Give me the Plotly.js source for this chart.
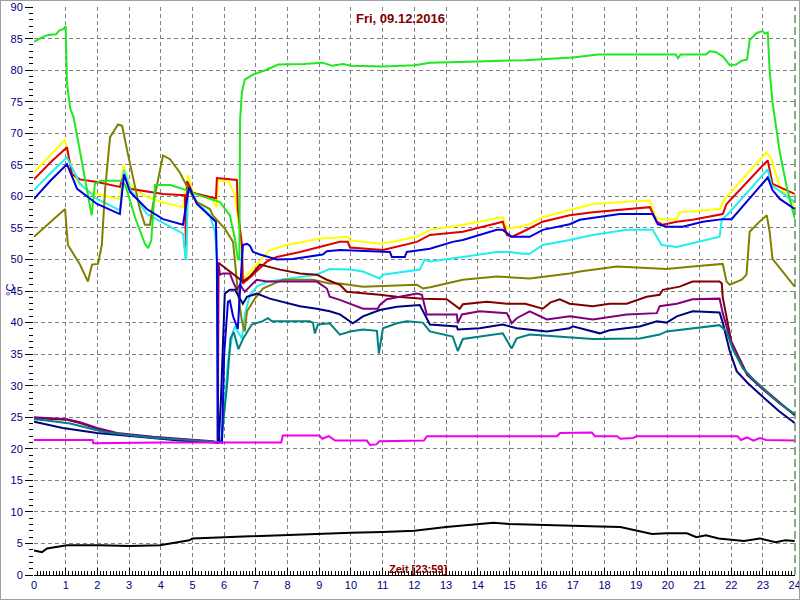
<!DOCTYPE html>
<html>
<head>
<meta charset="utf-8">
<script src="https://cdn.plot.ly/plotly-3.0.1.min.js"></script>
<style>
  html, body { margin: 0; padding: 0; background: #ffffff; }
  #wrap { position: relative; width: 800px; height: 600px; }
  #chart { width: 800px; height: 600px; }
  #frame { position: absolute; left: 0; top: 0; width: 800px; height: 600px; box-sizing: border-box; border: 1px solid #a0a0a0; pointer-events: none; }
</style>
</head>
<body>
<div id="wrap"><div id="chart"></div><div id="frame"></div></div>
<script>
// ---- data: [hour, °C] pairs ----
const chartTitle = "Fri, 09.12.2016";
const xTitle = "Zeit [23:59]";
const yTitle = "°C";

const green = [[0,84.5],[0.25,85.2],[0.45,85.6],[0.7,85.7],[0.8,86.3],[0.95,86.6],[1.0,87.0],[1.04,78.0],[1.14,74.0],[1.25,72.5],[1.4,68.5],[1.6,63.0],[1.82,57.0],[1.92,62.0],[2.1,62.5],[2.8,62.5],[2.9,61.5],[3.2,56.5],[3.5,52.5],[3.6,51.8],[3.7,53.0],[3.82,61.8],[4.3,61.8],[4.5,61.5],[4.8,61.0],[5.2,60.2],[5.6,59.5],[5.87,59.1],[6.18,57.0],[6.34,53.3],[6.43,50.1],[6.48,50.0],[6.5,72.0],[6.56,76.5],[6.65,78.5],[6.91,79.3],[7.3,80.0],[7.7,80.9],[8.5,81.0],[9.1,81.2],[9.4,80.7],[9.75,81.0],[10.0,80.7],[11.0,80.6],[12.0,80.8],[12.5,81.2],[14.0,81.4],[15.5,81.6],[17.0,82.0],[17.8,82.5],[20.25,82.5],[20.32,81.9],[20.4,82.5],[21.2,82.5],[21.32,83.0],[21.5,82.9],[21.73,82.2],[21.95,80.8],[22.15,80.9],[22.33,81.5],[22.5,81.7],[22.58,84.8],[22.8,85.9],[22.99,86.2],[23.05,85.8],[23.15,86.0],[23.21,80.0],[23.3,74.9],[23.53,67.0],[23.75,61.5],[24,56.5]];

const yellow = [[0,63.8],[0.5,66.5],[0.98,69.0],[1.07,66.5],[1.36,62.3],[1.77,60.7],[2.3,60.0],[2.71,59.6],[2.81,65.0],[3.03,61.8],[3.56,59.9],[4.1,59.0],[4.7,58.3],[4.86,63.4],[5.01,60.7],[5.64,59.4],[5.77,58.3],[5.8,62.6],[6.15,62.3],[6.34,60.2],[6.43,56.4],[6.56,51.7],[6.59,46.8],[7.03,49.2],[7.44,51.5],[7.98,52.3],[9.0,53.3],[9.9,53.6],[9.97,53.0],[11.0,52.5],[12.08,53.6],[12.49,54.7],[13.53,55.5],[14.79,56.7],[14.92,54.9],[15.3,55.2],[15.64,55.6],[16.05,56.7],[16.9,57.8],[17.63,58.8],[19.43,59.4],[19.58,57.0],[19.74,56.4],[20.28,56.4],[20.37,57.5],[21.63,58.0],[21.79,59.6],[23.12,67.0],[23.27,65.9],[23.53,61.5],[24,58.5]];

const red = [[0,62.7],[0.5,65.3],[1.04,67.8],[1.2,63.5],[1.45,62.7],[1.99,62.3],[2.71,61.5],[2.84,63.5],[3.03,61.2],[4.07,60.4],[4.76,60.2],[4.78,50.8],[4.8,50.8],[4.83,62.4],[5.0,60.6],[5.55,59.9],[5.74,59.7],[5.77,62.9],[6.4,62.6],[6.43,58.0],[6.56,52.3],[6.59,46.2],[6.91,47.6],[7.35,49.7],[7.66,50.4],[8.39,51.2],[9.65,52.8],[9.9,52.8],[9.97,51.9],[11.01,51.5],[12.08,52.8],[12.49,53.9],[13.53,54.4],[14.79,56.0],[14.92,53.9],[15.07,53.6],[15.42,54.4],[16.05,56.0],[16.9,57.0],[17.63,57.5],[19.43,58.3],[19.65,56.0],[19.84,55.5],[20.28,56.0],[20.78,56.3],[21.73,57.2],[21.85,58.8],[22.99,64.9],[23.15,65.7],[23.3,62.0],[24,60.4]];

const cyan = [[0,61.0],[0.5,63.6],[1.04,66.2],[1.23,64.2],[1.45,62.0],[1.99,59.6],[2.71,57.8],[2.84,64.2],[3.03,61.2],[3.56,57.2],[4.7,54.1],[4.78,50.1],[4.8,50.1],[4.86,61.5],[5.14,59.1],[5.55,57.0],[5.71,54.4],[5.77,50.0],[5.8,21.5],[5.93,21.2],[6.02,28.0],[6.12,33.9],[6.28,38.6],[6.34,39.4],[6.43,38.6],[6.56,37.5],[6.65,41.3],[6.81,44.4],[7.03,45.7],[7.35,46.5],[8.07,47.0],[8.9,47.6],[9.33,48.5],[9.97,48.4],[10.38,48.1],[10.91,47.0],[11.01,47.6],[12.17,48.4],[12.33,50.0],[12.49,49.7],[13.53,50.4],[14.6,51.2],[15.01,51.2],[15.42,50.9],[15.64,50.9],[16.05,52.3],[16.9,53.1],[17.63,53.9],[18.7,54.7],[19.52,54.7],[19.8,52.3],[20.28,52.0],[21.63,53.6],[21.7,56.3],[21.95,57.5],[23.15,64.3],[23.27,61.8],[24,59.1]];

const blue = [[0,59.6],[0.5,62.4],[1.04,65.1],[1.36,61.2],[1.99,58.8],[2.71,57.2],[2.84,63.5],[3.03,60.7],[3.56,58.0],[4.07,56.4],[4.7,55.5],[4.89,61.5],[5.14,58.8],[5.64,56.4],[5.74,56.0],[5.77,49.7],[5.8,21.3],[5.93,21.0],[6.0,35.0],[6.12,43.3],[6.18,43.5],[6.28,41.0],[6.43,39.0],[6.5,45.0],[6.59,52.3],[6.72,52.5],[6.81,52.2],[6.91,51.2],[7.13,50.8],[7.66,50.0],[8.17,50.1],[9.11,50.8],[9.24,51.3],[9.65,51.5],[11.23,51.2],[11.29,50.4],[11.7,50.4],[11.76,51.2],[12.49,51.7],[13.21,52.8],[13.53,53.1],[14.6,54.7],[14.79,54.7],[15.07,53.6],[15.64,53.6],[16.05,54.7],[16.9,55.6],[17.22,56.3],[18.48,57.2],[19.52,57.2],[19.68,55.6],[19.96,55.2],[20.47,55.2],[21.1,56.0],[21.73,56.4],[22.01,56.4],[23.15,63.0],[23.3,61.0],[23.53,59.6],[24,58.0]];

const olive = [[0,53.6],[0.5,55.8],[0.98,58.0],[1.07,52.3],[1.45,49.2],[1.7,46.5],[1.83,49.2],[2.02,49.3],[2.14,52.3],[2.24,61.0],[2.4,69.4],[2.65,71.4],[2.78,71.2],[2.93,67.5],[3.34,58.0],[3.5,55.5],[3.66,55.5],[3.75,58.6],[4.07,66.5],[4.29,65.9],[4.6,63.8],[4.92,60.7],[5.14,59.1],[5.55,58.0],[5.64,57.0],[6.02,54.9],[6.28,52.8],[6.34,49.7],[6.43,44.9],[6.56,40.2],[6.65,38.6],[6.72,41.8],[6.97,43.8],[7.22,45.4],[7.85,46.8],[8.8,46.8],[9.33,46.2],[9.65,46.2],[10.38,45.7],[12.08,46.0],[12.27,45.4],[12.5,45.6],[13.53,46.8],[14.6,47.3],[15.64,47.0],[16.9,47.8],[17.22,48.1],[18.39,48.9],[19.96,48.5],[20.78,48.9],[21.63,49.2],[21.73,49.3],[21.85,46.5],[21.95,46.0],[22.33,46.8],[22.48,47.6],[22.58,54.4],[22.89,56.0],[23.12,57.0],[23.21,54.4],[23.3,50.1],[24,45.7]];

const maroon = [[0,24.9],[1.04,24.6],[1.45,24.1],[1.99,23.2],[2.62,22.4],[3.75,21.8],[5.64,21.1],[5.8,21.0],[5.82,49.5],[6.59,46.5],[6.81,47.3],[7.13,49.2],[7.76,48.4],[8.39,47.8],[8.92,47.6],[9.24,46.8],[9.65,46.0],[9.87,44.9],[10.91,44.4],[11.45,44.1],[12.27,43.8],[13.02,43.7],[13.43,42.2],[13.53,42.9],[14.29,43.3],[14.92,43.0],[15.5,43.0],[16.05,42.2],[16.3,43.2],[16.59,43.7],[16.9,43.0],[17.63,42.6],[18.16,43.0],[18.7,43.0],[19.33,44.1],[19.74,44.4],[19.84,45.2],[20.37,45.7],[20.78,46.5],[21.63,46.5],[21.7,46.2],[21.73,44.0],[22.0,37.0],[22.5,31.8],[23.0,29.6],[23.5,27.4],[24,25.3]];

const purple = [[0,25.0],[1.04,24.7],[1.45,24.2],[1.99,23.3],[2.62,22.5],[3.75,21.9],[5.64,21.2],[5.8,21.0],[5.81,49.5],[5.87,47.6],[5.96,47.8],[6.18,47.8],[6.28,46.5],[6.4,45.2],[6.5,46.0],[6.65,44.9],[6.81,45.7],[7.03,46.8],[7.35,46.5],[8.92,46.5],[9.24,45.4],[9.33,44.1],[9.65,43.6],[9.97,43.0],[10.38,42.2],[10.85,42.2],[10.91,42.8],[11.13,43.7],[11.45,44.0],[12.08,44.6],[12.24,44.4],[12.39,41.3],[13.34,41.3],[13.37,39.9],[13.5,41.3],[14.06,41.8],[14.92,41.5],[15.07,39.9],[15.23,40.7],[15.64,41.8],[16.18,40.5],[16.9,41.0],[17.63,40.5],[18.7,41.3],[19.65,41.5],[19.74,42.6],[20.28,43.0],[20.78,43.7],[21.63,43.8],[21.73,41.5],[22.0,36.8],[22.5,31.7],[23.0,29.4],[23.5,27.3],[24,25.4]];

const navy = [[0,24.3],[0.91,23.3],[1.99,22.5],[3.03,22.0],[4.6,21.3],[5.71,21.0],[5.83,21.0],[5.9,28.0],[6.02,44.6],[6.18,45.2],[6.34,45.2],[6.5,43.8],[6.59,43.0],[6.72,44.1],[7.03,44.6],[7.44,43.8],[8.07,43.0],[8.39,42.6],[8.92,42.2],[9.33,41.8],[9.65,41.3],[10.06,39.9],[10.38,41.0],[10.91,42.0],[11.45,42.5],[12.17,42.8],[12.39,40.7],[12.49,39.7],[13.34,39.4],[13.37,38.9],[14.06,39.1],[14.79,39.7],[15.23,39.1],[16.18,38.6],[16.9,39.1],[17.0,39.4],[17.85,38.3],[18.16,38.8],[19.11,39.4],[19.65,40.2],[19.96,40.0],[20.28,41.0],[20.78,41.8],[21.63,41.6],[21.73,40.0],[21.95,35.5],[22.17,32.3],[22.5,30.5],[23.0,28.2],[23.5,26.0],[24,24.1]];

const teal = [[0,24.7],[0.41,24.5],[1.14,24.0],[1.77,23.2],[2.18,22.7],[2.62,22.4],[3.66,21.8],[5.77,21.1],[5.9,21.0],[6.09,30.0],[6.2,37.5],[6.3,38.5],[6.45,35.8],[6.6,37.5],[6.72,38.5],[6.87,39.7],[7.2,40.2],[7.38,40.7],[7.51,40.2],[8.7,40.2],[8.8,40.0],[8.86,38.3],[8.96,39.7],[9.33,39.9],[9.65,38.1],[9.97,38.6],[10.38,38.9],[10.82,38.7],[10.88,35.1],[11.01,39.1],[11.45,39.9],[11.76,40.2],[12.27,40.0],[12.49,38.6],[13.21,37.8],[13.37,35.5],[13.53,37.4],[14.06,37.8],[14.79,38.3],[15.07,35.9],[15.23,37.5],[15.64,38.1],[16.59,37.8],[17.63,37.4],[19.11,37.5],[19.74,38.1],[19.96,38.6],[20.78,39.1],[21.63,39.6],[21.85,38.6],[22.04,35.9],[22.36,32.8],[22.7,31.0],[23.0,29.6],[23.5,27.3],[24,25.5]];

const magenta = [[0,21.4],[1.85,21.4],[1.87,20.9],[4.0,21.0],[7.8,21.0],[7.85,22.1],[9.0,22.1],[9.1,21.6],[9.3,22.0],[9.5,21.3],[10.5,21.3],[10.6,20.6],[10.8,20.7],[10.9,21.2],[12.3,21.3],[12.4,22.0],[16.5,22.0],[16.6,22.5],[17.6,22.6],[17.7,22.0],[18.4,22.0],[18.5,21.6],[18.9,21.7],[19.0,22.0],[22.2,22.0],[22.3,21.4],[22.5,21.8],[22.7,21.3],[22.9,21.7],[23.1,21.4],[24,21.3]];

const black = [[0,3.9],[0.25,3.6],[0.41,4.2],[0.7,4.4],[1.04,4.7],[2.1,4.7],[3.0,4.6],[3.97,4.7],[4.5,5.1],[4.9,5.5],[5.0,5.8],[5.5,5.9],[6.3,6.0],[7.0,6.1],[8.0,6.3],[9.0,6.5],[10.0,6.7],[11.0,6.8],[12.0,7.0],[13.0,7.6],[14.0,8.0],[14.5,8.3],[15.0,8.1],[16.0,8.0],[17.0,7.8],[17.85,7.7],[18.5,7.6],[19.0,7.1],[19.5,6.5],[19.96,6.6],[20.6,6.6],[20.9,6.0],[21.2,6.3],[21.6,5.8],[22.4,5.4],[22.9,5.8],[23.4,5.2],[23.7,5.5],[24,5.4]];

const seriesList = [
  {data: yellow, color: '#ffff00'},
  {data: red, color: '#e00000'},
  {data: cyan, color: '#22eeee'},
  {data: olive, color: '#808000'},
  {data: green, color: '#22e622'},
  {data: maroon, color: '#800000'},
  {data: purple, color: '#800080'},
  {data: navy, color: '#000080'},
  {data: teal, color: '#008080'},
  {data: blue, color: '#0000dd'},
  {data: magenta, color: '#ee00ee'},
  {data: black, color: '#000000'}
];

const traces = seriesList.map(s => ({
  type: 'scatter', mode: 'lines',
  x: s.data.map(p => p[0]), y: s.data.map(p => p[1]),
  line: {color: s.color, width: 2},
  hoverinfo: 'skip', showlegend: false
}));

const tickFont = {family: 'Arial, "Liberation Sans", sans-serif', size: 11, color: '#000080'};
const layout = {
  width: 800, height: 600,
  margin: {l: 34, r: 5, t: 7, b: 25},
  paper_bgcolor: '#ffffff', plot_bgcolor: '#ffffff',
  showlegend: false,
  xaxis: {
    range: [0, 24.01], tick0: 0, dtick: 1,
    showgrid: true, gridcolor: '#808080', gridwidth: 1, griddash: '4px,3px',
    zeroline: false, showline: true, linecolor: '#000000', linewidth: 1,
    ticks: 'inside', ticklen: 7, tickcolor: '#000000', tickwidth: 1,
    minor: {dtick: 0.1, ticks: 'inside', ticklen: 4, tickcolor: '#000000', showgrid: false},
    tickfont: tickFont, ticklabeloverflow: 'allow', fixedrange: true
  },
  yaxis: {
    range: [0, 90.02], tick0: 0, dtick: 5,
    showgrid: true, gridcolor: '#808080', gridwidth: 1, griddash: '4px,3px',
    zeroline: false, showline: false,
    ticks: 'outside', ticklen: 8, tickcolor: '#000000', tickwidth: 1,
    minor: {dtick: 1, ticks: 'outside', ticklen: 4, tickcolor: '#000000', showgrid: false},
    tickfont: tickFont, ticklabeloverflow: 'allow', fixedrange: true
  },
  shapes: [
    {type: 'line', xref: 'paper', yref: 'paper', x0: 1, x1: 1, y0: 0, y1: 1,
     line: {color: '#006400', width: 1, dash: '8px,4px'}}
  ],
  annotations: [
    {text: '<b>' + chartTitle + '</b>', xref: 'paper', yref: 'paper', x: 0.481, y: 0.9806,
     xanchor: 'center', yanchor: 'middle', showarrow: false,
     font: {family: 'Arial, "Liberation Sans", sans-serif', size: 13, color: '#800000'}},
    {text: '<b>' + xTitle + '</b>', xref: 'paper', yref: 'paper', x: 0.5046, y: 0.0106,
     xanchor: 'center', yanchor: 'middle', showarrow: false,
     font: {family: 'Arial, "Liberation Sans", sans-serif', size: 11, color: '#800000'}},
    {text: yTitle, xref: 'paper', yref: 'paper', x: -0.0315, y: 0.5018, textangle: -90,
     xanchor: 'center', yanchor: 'middle', showarrow: false,
     font: {family: 'Arial, "Liberation Sans", sans-serif', size: 11, color: '#000080'}}
  ]
};

Plotly.newPlot('chart', traces, layout, {staticPlot: true, displayModeBar: false});
</script>
</body>
</html>
